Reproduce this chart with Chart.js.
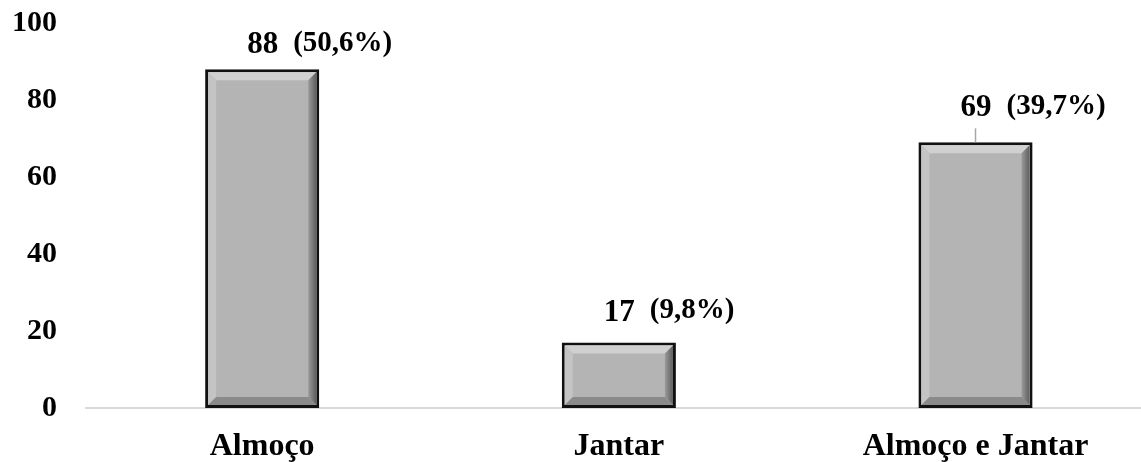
<!DOCTYPE html>
<html>
<head>
<meta charset="utf-8">
<script src="https://cdn.jsdelivr.net/npm/chart.js@4.4.0/dist/chart.umd.min.js"></script>
<style>
  html, body { margin: 0; padding: 0; background: #fff; }
  #wrap { width: 1141px; height: 462px; }
</style>
</head>
<body>
<div id="wrap"><canvas id="mealChart"></canvas></div>
<script>
const categories = ['Almoço', 'Jantar', 'Almoço e Jantar'];
const counts = [88, 17, 69];
const percents = [50.6, 9.8, 39.7];
const yTicks = [0, 20, 40, 60, 80, 100];

const serif = '"Liberation Serif", "Times New Roman", serif';

// bevelled look of the bars
const bevelPlugin = {
  id: 'bevel',
  afterDatasetsDraw(chart) {
    const ctx = chart.ctx;
    const meta = chart.getDatasetMeta(0);
    meta.data.forEach(bar => {
      const p = bar.getProps(['x', 'y', 'base', 'width'], true);
      const L = p.x - p.width / 2 + 3, R = p.x + p.width / 2 - 3;
      const T = p.y + 3, B = p.base - 3;
      const b = 8;
      ctx.save();
      const poly = (pts, color) => {
        ctx.beginPath();
        ctx.moveTo(pts[0][0], pts[0][1]);
        pts.slice(1).forEach(q => ctx.lineTo(q[0], q[1]));
        ctx.closePath();
        ctx.fillStyle = color;
        ctx.fill();
      };
      const gr = ctx.createLinearGradient(R - b, 0, R, 0);
      gr.addColorStop(0, '#9a9a9a');
      gr.addColorStop(1, '#5e5e5e');
      poly([[L, T], [R, T], [R - b, T + b], [L + b, T + b]], '#d0d0d0');
      poly([[L, T], [L + b, T + b], [L + b, B - b], [L, B]], '#c4c4c4');
      poly([[R, T], [R, B], [R - b, B - b], [R - b, T + b]], gr);
      poly([[L, B], [L + b, B - b], [R - b, B - b], [R, B]], '#8a8a8a');
      ctx.restore();
    });
  }
};

// "88 (50,6%)" labels above the bars
const valueLabels = {
  id: 'valueLabels',
  afterDatasetsDraw(chart) {
    const ctx = chart.ctx;
    const lift = [24, 30, 34];
    chart.getDatasetMeta(0).data.forEach((bar, i) => {
      const top = bar.y;
      const x0 = bar.x - 15;
      const yy = top - lift[i];
      ctx.save();
      ctx.fillStyle = '#000';
      ctx.textBaseline = 'middle';
      ctx.textAlign = 'left';
      ctx.font = 'bold 31px ' + serif;
      const num = String(counts[i]);
      ctx.fillText(num, x0, yy);
      const w = ctx.measureText(num).width;
      ctx.font = 'bold 29px ' + serif;
      ctx.fillText('(' + percents[i].toFixed(1).replace('.', ',') + '%)', x0 + w + 15, yy - 2);
      if (i === 2) {
        ctx.strokeStyle = '#a6a6a6';
        ctx.lineWidth = 1.5;
        ctx.beginPath();
        ctx.moveTo(bar.x, top - 14);
        ctx.lineTo(bar.x, top);
        ctx.stroke();
      }
      ctx.restore();
    });
  }
};

new Chart(document.getElementById('mealChart'), {
  type: 'bar',
  data: {
    datasets: [{
      data: counts.map((v, i) => ({ x: i, y: v })),
      backgroundColor: '#b4b4b4',
      borderColor: '#111',
      borderWidth: 3,
      borderSkipped: false,
      barPercentage: 0.32,
      categoryPercentage: 1
    }]
  },
  options: {
    responsive: true,
    maintainAspectRatio: false,
    animation: false,
    layout: { padding: { left: 11, top: 23, right: 0, bottom: 0 } },
    plugins: { legend: { display: false }, tooltip: { enabled: false } },
    scales: {
      x: {
        type: 'linear',
        offset: false,
        min: -0.494,
        max: 2.464,
        afterBuildTicks: axis => { axis.ticks = categories.map((c, i) => ({ value: i })); },
        afterFit: axis => { axis.height = 54; axis.paddingLeft = 0; axis.paddingRight = 0; },
        grid: { display: false, drawTicks: false },
        border: { display: true, color: '#d9d9d9', width: 2 },
        ticks: {
          callback: v => categories[v],
          color: '#000',
          padding: 20,
          maxRotation: 0,
          autoSkip: false,
          font: { family: serif, size: 32, weight: 'bold' }
        }
      },
      y: {
        min: 0,
        max: 100,
        afterBuildTicks: axis => { axis.ticks = yTicks.map(v => ({ value: v })); },
        afterFit: axis => { axis.width = 75; axis.paddingTop = 0; axis.paddingBottom = 0; },
        grid: { display: false, drawTicks: false },
        border: { display: false },
        ticks: {
          color: '#000',
          padding: 29,
          font: { family: serif, size: 30, weight: 'bold' }
        }
      }
    }
  },
  plugins: [bevelPlugin, valueLabels]
});
</script>
</body>
</html>
